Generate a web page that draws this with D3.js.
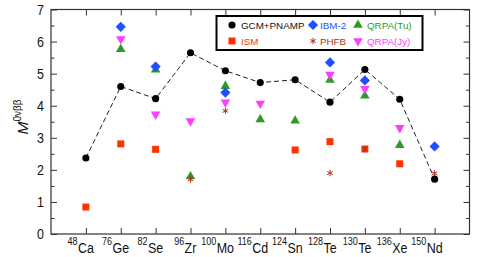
<!DOCTYPE html>
<html>
<head>
<meta charset="utf-8">
<script src="https://cdn.jsdelivr.net/npm/d3@7"></script>
<style>
  body { margin: 0; background: #fff; }
  svg { font-family: "Liberation Sans", Arial, sans-serif; }
</style>
</head>
<body>
<div id="chart"></div>
<script>
// nuclei along the x axis (mass number + element)
var masses = ["48", "76", "82", "96", "100", "116", "124", "128", "130", "136", "150"];
var elements = ["Ca", "Ge", "Se", "Zr", "Mo", "Cd", "Sn", "Te", "Te", "Xe", "Nd"];

// nuclear matrix elements per model (null = no value)
var gcm   = [2.37, 4.60, 4.22, 5.65, 5.09, 4.72, 4.81, 4.11, 5.13, 4.20, 1.71];
var ibm   = [null, 6.46, 5.22, null, 4.41, null, null, 5.35, 4.79, null, 2.73];
var tu    = [null, 5.76, 5.12, 1.79, 4.61, 3.57, 3.53, 4.80, 4.31, 2.77, null];
var jy    = [null, 6.08, 3.73, 3.52, 4.11, 4.07, null, 4.97, 4.53, 3.31, null];
var ism   = [0.84, 2.81, 2.64, null, null, null, 2.62, 2.88, 2.65, 2.19, null];
var phfb  = [null, null, null, 1.70, 3.84, null, null, 1.90, 2.65, null, 1.89];

var yTicks = [0, 1, 2, 3, 4, 5, 6, 7];

function drawChart() {
    var W = 482, H = 257;
    var left = 51, right = 469.5, top = 9.5, bottom = 234;
    var squeeze = 0.86;  // tick labels look horizontally narrowed

    var svg = d3.select("#chart").append("svg")
        .attr("width", W).attr("height", H);

    var x = d3.scaleLinear().domain([0, masses.length + 1]).range([left, right]);
    var y = d3.scaleLinear().domain([0, 7]).range([bottom, top]);

    var axisCol = "#333";

    // frame
    svg.append("rect")
        .attr("x", left).attr("y", top)
        .attr("width", right - left).attr("height", bottom - top)
        .attr("fill", "none").attr("stroke", axisCol).attr("stroke-width", 1.2);

    var xIdx = d3.range(1, masses.length + 1);
    var minor = d3.range(0.5, 7, 1);

    function ticksOnly(g) {
        g.select(".domain").remove();
        g.selectAll("line").attr("stroke", axisCol);
        g.selectAll("text").remove();
    }

    // left / right axes, ticks pointing inward
    svg.append("g").attr("transform", "translate(" + left + ",0)")
        .call(d3.axisLeft(y).tickValues(yTicks).tickSize(-6)).call(ticksOnly);
    svg.append("g").attr("transform", "translate(" + left + ",0)")
        .call(d3.axisLeft(y).tickValues(minor).tickSize(-3.5)).call(ticksOnly);
    svg.append("g").attr("transform", "translate(" + right + ",0)")
        .call(d3.axisRight(y).tickValues(yTicks).tickSize(-6)).call(ticksOnly);
    svg.append("g").attr("transform", "translate(" + right + ",0)")
        .call(d3.axisRight(y).tickValues(minor).tickSize(-3.5)).call(ticksOnly);

    // bottom / top ticks
    svg.append("g").attr("transform", "translate(0," + bottom + ")")
        .call(d3.axisBottom(x).tickValues(xIdx).tickSize(-6)).call(ticksOnly);
    svg.append("g").attr("transform", "translate(0," + top + ")")
        .call(d3.axisTop(x).tickValues(xIdx).tickSize(-6)).call(ticksOnly);

    // y tick labels
    svg.append("g").selectAll("text").data(yTicks).enter().append("text")
        .attr("transform", function(d) { return "translate(44," + (y(d) + 5) + ") scale(" + squeeze + ",1)"; })
        .attr("text-anchor", "end").attr("font-size", 14.5).attr("fill", "#111")
        .text(function(d) { return d; });

    // x labels: element centred on the tick, mass number as superscript before it
    var xl = svg.append("g").selectAll("g").data(masses).enter().append("g")
        .attr("transform", function(d, i) { return "translate(" + x(i + 1) + ",253) scale(" + squeeze + ",1)"; });
    xl.append("text")
        .attr("text-anchor", "middle").attr("font-size", 14.5).attr("fill", "#111")
        .text(function(d, i) { return elements[i]; })
        .each(function() {
            var w = this.getComputedTextLength();
            d3.select(this.parentNode).append("text")
                .attr("x", -w / 2 - 0.5).attr("y", -8)
                .attr("text-anchor", "end").attr("font-size", 10.5).attr("fill", "#111")
                .text(d3.select(this.parentNode).datum());
        });

    // y label
    var yl = svg.append("text")
        .attr("transform", "translate(28,117) rotate(-90)")
        .attr("text-anchor", "middle").attr("font-size", 15.5).attr("fill", "#111");
    yl.append("tspan").attr("font-style", "italic").text("M");
    yl.append("tspan").attr("font-size", 10).attr("dy", -7).text("0νββ");

    function pts(arr) {
        return arr.map(function(v, i) { return { i: i + 1, v: v }; })
                  .filter(function(d) { return d.v !== null; });
    }

    // dashed line for GCM+PNAMP
    var line = d3.line().x(function(d) { return x(d.i); }).y(function(d) { return y(d.v); });
    svg.append("path").datum(pts(gcm))
        .attr("d", line).attr("fill", "none")
        .attr("stroke", "#222").attr("stroke-width", 1).attr("stroke-dasharray", "5,3");

    var series = [
        { data: ism,  sym: d3.symbolSquare,   size: 49, color: "#ff3300", name: "ISM" },
        { data: tu,   sym: d3.symbolTriangle, size: 40, color: "#2b9a2b", name: "QRPA(Tu)" },
        { data: jy,   sym: d3.symbolTriangle, size: 40, color: "#ff3dff", name: "QRPA(Jy)", rot: 180 },
        { data: ibm,  sym: d3.symbolSquare,   size: 52, color: "#1f4fff", name: "IBM-2", rot: 45 },
        { data: phfb, sym: d3.symbolAsterisk, size: 28, color: "#a83220", name: "PHFB", stroke: true },
        { data: gcm,  sym: d3.symbolCircle,   size: 40, color: "#000000", name: "GCM+PNAMP" }
    ];

    function drawSym(sel, s) {
        sel.attr("d", d3.symbol().type(s.sym).size(s.size)())
            .attr("fill", s.stroke ? "none" : s.color)
            .attr("stroke", s.stroke ? s.color : "none")
            .attr("stroke-width", s.stroke ? 1 : 0);
    }

    series.forEach(function(s) {
        svg.append("g").selectAll("path").data(pts(s.data)).enter().append("path")
            .attr("transform", function(d) {
                return "translate(" + x(d.i) + "," + y(d.v) + ")" + (s.rot ? " rotate(" + s.rot + ")" : "");
            })
            .call(drawSym, s);
    });

    // legend
    var lg = svg.append("g");
    lg.append("rect").attr("x", 216.5).attr("y", 16).attr("width", 206).attr("height", 34)
        .attr("fill", "#fff").attr("stroke", "#000").attr("stroke-width", 2);
    var legendRows = [
        [series[5], 232, 241, 25],
        [series[3], 313, 320, 25],
        [series[1], 358, 367, 25],
        [series[0], 232, 241, 41],
        [series[4], 313, 320, 41],
        [series[2], 358, 367, 41]
    ];
    legendRows.forEach(function(r) {
        var s = r[0];
        lg.append("path")
            .attr("transform", "translate(" + r[1] + "," + r[3] + ")" + (s.rot ? " rotate(" + s.rot + ")" : ""))
            .call(drawSym, s);
        lg.append("text").attr("x", r[2]).attr("y", r[3] + 3.5)
            .attr("font-size", 9.8).attr("fill", s.color === "#000000" ? "#111" : s.color)
            .text(s.name);
    });
}

window.onload = drawChart;
</script>
</body>
</html>
